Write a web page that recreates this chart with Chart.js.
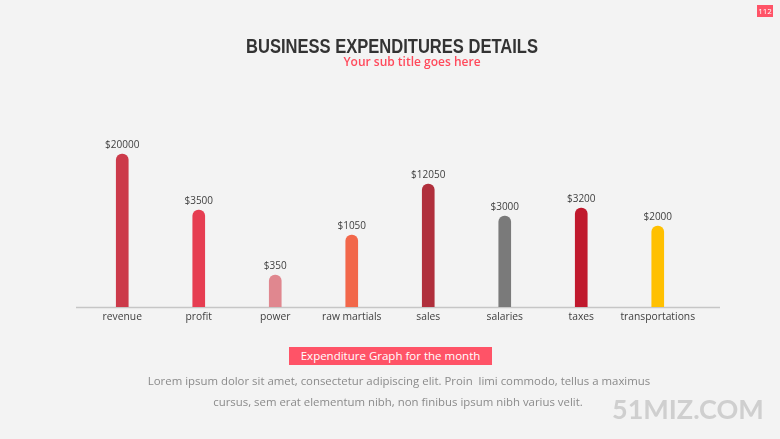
<!DOCTYPE html>
<html><head><meta charset="utf-8">
<script src="https://cdn.jsdelivr.net/npm/chart.js@4/dist/chart.umd.min.js"></script>
<style>
html,body{margin:0;padding:0;}
body{width:780px;height:439px;background:#f3f3f3;position:relative;overflow:hidden;font-family:"Open Sans",sans-serif;}
#wrap{position:absolute;left:0;top:0;width:780px;height:439px;}
.t{position:absolute;white-space:nowrap;}
#titlebox{left:246px;width:292px;top:34px;height:24px;}
#title{position:absolute;left:0;top:0;font-family:"Liberation Sans","Arial",sans-serif;font-weight:bold;font-size:21px;color:#333;line-height:24px;transform-origin:0 0;white-space:nowrap;}
#sub{left:0;width:824px;top:53px;text-align:center;font-weight:600;font-size:12px;color:#ff4a5c;line-height:18px;}
#box{left:289px;top:347px;width:203px;height:18px;background:#ff5367;color:#fff;font-size:11.5px;line-height:18px;text-align:center;}
#p1{left:0;width:798px;top:372px;text-align:center;font-size:11.4px;color:#8a8a8a;line-height:18px;}
#p2{left:0;width:796px;top:393px;text-align:center;font-size:11.4px;color:#8a8a8a;line-height:18px;}
#wm{left:612px;top:393px;font-family:"Lato","Open Sans",sans-serif;font-weight:bold;font-size:27px;color:#cfcfcf;line-height:32px;}
#badge{left:757px;top:5px;width:16px;height:12px;background:#ff5367;color:#fff;font-size:8px;line-height:12px;text-align:center;}
</style></head><body>
<div id="wrap"><canvas id="c" width="780" height="439"></canvas></div>
<div class="t" id="titlebox"><span id="title">BUSINESS EXPENDITURES DETAILS</span></div>
<div class="t" id="sub">Your sub title goes here</div>
<div class="t" id="box">Expenditure Graph for the month</div>
<div class="t" id="p1">Lorem ipsum dolor sit amet, consectetur adipiscing elit. Proin&nbsp; limi commodo, tellus a maximus</div>
<div class="t" id="p2">cursus, sem erat elementum nibh, non finibus ipsum nibh varius velit.</div>
<div class="t" id="wm">51MIZ.COM</div>
<div class="t" id="badge">112</div>
<script>
const categories = ['revenue','profit','power','raw martials','sales','salaries','taxes','transportations'];
const amountLabels = ['$20000','$3500','$350','$1050','$12050','$3000','$3200','$2000'];
const barHeights = [153,97,32,72,123,91,99,81];
const barColors = ['#cc3a4a','#e63d51','#e0878f','#f2674a','#b02f3c','#7a7a7a','#c0192d','#ffc000'];

(function(){
  const t=document.getElementById('title');
  const w=t.getBoundingClientRect().width;
  t.style.transform='scaleX('+(292/w)+')';
})();

const extras = {
  id:'extras',
  beforeDatasetsDraw(chart){
    const ctx = chart.ctx, y = chart.scales.y.getPixelForValue(0);
    ctx.save();
    ctx.strokeStyle='#c6c6c6'; ctx.lineWidth=1.5;
    ctx.beginPath(); ctx.moveTo(76,y+0.5); ctx.lineTo(720,y+0.5); ctx.stroke();
    ctx.restore();
  },
  afterDatasetsDraw(chart){
    const ctx = chart.ctx, meta = chart.getDatasetMeta(0), xs = chart.scales.x;
    const y0 = chart.scales.y.getPixelForValue(0);
    ctx.save();
    ctx.font='10px "Open Sans", sans-serif'; ctx.fillStyle='#404040';
    ctx.textAlign='center'; ctx.textBaseline='bottom';
    meta.data.forEach((b,i)=>{ ctx.fillText(amountLabels[i], b.x, b.y-4); });
    ctx.font='10.3px "Open Sans", sans-serif'; ctx.textBaseline='middle';
    categories.forEach((c,i)=>{ ctx.fillText(c, xs.getPixelForValue(i), y0+10.5); });
    ctx.restore();
  }
};

new Chart(document.getElementById('c'),{
  type:'bar',
  data:{labels:categories,datasets:[{data:barHeights,backgroundColor:barColors,barThickness:12,
    borderRadius:{topLeft:6,topRight:6,bottomLeft:0,bottomRight:0},borderSkipped:'bottom'}]},
  options:{responsive:false,animation:false,
    layout:{padding:{left:84,right:84,top:147,bottom:132}},
    plugins:{legend:{display:false},tooltip:{enabled:false}},
    scales:{
      x:{display:false},
      y:{display:false,min:0,max:160}
    }
  },
  plugins:[extras]
});
</script>
</body></html>
